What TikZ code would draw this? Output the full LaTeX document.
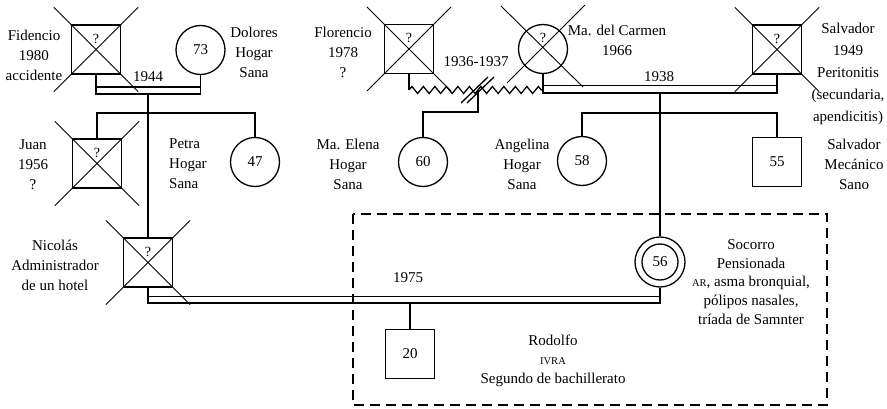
\documentclass[tikz,border=0pt]{standalone}
\usepackage{fontspec}
\setmainfont{Liberation Serif}
\usetikzlibrary{calc,decorations.pathmorphing}
\newcommand\lbl{\fontsize{15}{20}\selectfont}
\newcommand\smc[1]{{\fontsize{10.5}{12}\selectfont #1}}
\tikzset{
  rel/.style={line width=1.3pt},
  xline/.style={line width=0.9pt},
  sq/.style={draw, rectangle, line width=1.3pt, minimum size=49pt, inner sep=0pt, font=\lbl},
  cir/.style={draw, circle, line width=1.3pt, minimum size=49pt, inner sep=0pt, font=\lbl},
  txt/.style={align=center, font=\lbl, inner sep=0pt},
  qm/.style={font=\fontsize{14}{16}\selectfont, inner sep=0pt},
  dashbox/.style={line width=1.3pt, dash pattern=on 10pt off 6pt},
  zz/.style={line width=1.3pt, decorate, decoration={zigzag, segment length=11.5pt, amplitude=3.5pt}},
}
\newcommand\deadsq[1]{%
  \draw[xline] ($(#1.north west)+(-17,-17)$) -- ($(#1.south east)+(17,17)$);
  \draw[xline] ($(#1.north east)+(17,-17)$) -- ($(#1.south west)+(-17,17)$);
  \node[qm] (q#1) at ($(#1.center)+(0,-11)$) {?};}
\begin{document}
\begin{tikzpicture}[x=1pt,y=-1pt]
\useasboundingbox (0,0) rectangle (887,409);
\fill[white] (0,0) rectangle (887,409);

% ---- people ----
\node[sq] (fid) at (96,49.5) {};
\node[cir] (dol) at (200.5,50) {73};
\node[sq] (juan) at (97,163.5) {};
\node[cir] (petra) at (255,162) {47};
\node[sq] (nic) at (148,262.5) {};
\node[sq] (flor) at (409,49) {};
\node[cir] (carmen) at (543,49) {};
\node[sq] (salv) at (777,49.5) {};
\node[cir] (elena) at (423,162) {60};
\node[cir] (angel) at (582,161) {58};
\node[sq] (salvb) at (777,162) {55};
\node[cir, minimum size=50pt] (soc) at (660,262) {56};
\draw[rel] (soc.center) circle[radius=18pt];
\node[sq] (rod) at (410,354) {20};

\deadsq{fid}
\deadsq{juan}
\deadsq{nic}
\deadsq{flor}
\deadsq{salv}
\draw[xline] ($(carmen.center)+(-42,-43)$) -- ($(carmen.center)+(40,38)$);
\draw[xline] ($(carmen.center)+(42,-44)$) -- ($(carmen.center)+(-36,34)$);
\node[qm] (qcarmen) at ($(carmen.center)+(0,-11)$) {?};

% ---- texts ----
\node[txt] (tfid) at (34,55) {Fidencio\\1980\\accidente};
\node[txt] (tdol) at (254,52) {Dolores\\Hogar\\Sana};
\node[txt] (tjuan) at (33,165) {Juan\\1956\\?};
\node[txt, align=left, anchor=west] (tpet) at (169,164) {Petra\\Hogar\\Sana};
\node[txt] (tnic) at (55,265) {Nicolás\\Administrador\\de un hotel};
\node[txt] (tflor) at (343,52) {Florencio\\1978\\?};
\node[txt] (tcar) at (617,40) {Ma. del Carmen\\1966};
\node[txt, font=\fontsize{15}{22}\selectfont] (tsal) at (848,74) {Salvador\\1949\\Peritonitis\\(secundaria,\\apendicitis)};
\node[txt] (tele) at (348,164) {Ma. Elena\\Hogar\\Sana};
\node[txt] (tang) at (522,164) {Angelina\\Hogar\\Sana};
\node[txt] (tsalb) at (854,164) {Salvador\\Mecánico\\Sano};
\node[txt, font=\fontsize{15}{18.8}\selectfont] (tsoc) at (751,282) {Socorro\\Pensionada\\\smc{AR}, asma bronquial,\\pólipos nasales,\\tríada de Samnter};
\node[txt, font=\fontsize{15}{19}\selectfont] (trod) at (553,361) {Rodolfo\\\smc{IVRA}\\Segundo de bachillerato};
\node[txt] (y44) at (148,77) {1944};
\node[txt] (y38) at (659,77) {1938};
\node[txt] (y75) at (408,278) {1975};
\node[txt] (y36) at (476,62) {1936-1937};

% ---- marriage 1944 ----
\coordinate (m1) at (148,94);
\draw[rel] (fid.south) -- (fid.south |- m1) -- (dol.south |- m1) -- (dol.south);
\draw[rel] ($(fid.south |- m1)+(0,-7)$) -- ($(dol.south |- m1)+(0,-7)$);
\draw[rel] (nic.north |- m1) -- (nic.north);
\coordinate (s1) at (148,113);
\draw[rel] (juan.north) -- (juan.north |- s1) -- (petra.north |- s1) -- (petra.north);

% ---- Florencio - Carmen (divorced) ----
\coordinate (z) at (478,90);
\draw[rel] (flor.south) -- (flor.south |- z);
\draw[zz] (flor.south |- z) -- (carmen.south |- z);
\draw[rel] ($(z)+(-17,13)$) -- ($(z)+(10,-13)$);
\draw[rel] ($(z)+(-11,13)$) -- ($(z)+(16,-13)$);
\coordinate (d2) at (478,112);
\draw[rel] (z) -- (d2) -- (d2 -| elena.north) -- (elena.north);

% ---- marriage 1938 ----
\coordinate (m2) at (660,93);
\draw[rel] (carmen.south) -- (carmen.south |- m2) -- (salv.south |- m2) -- (salv.south);
\draw[rel] ($(carmen.south |- m2)+(0,-7.5)$) -- ($(salv.south |- m2)+(0,-7.5)$);
\draw[rel] (m2) -- (soc.north);
\coordinate (s2) at (660,113);
\draw[rel] (angel.north) -- (angel.north |- s2) -- (salvb.north |- s2) -- (salvb.north);

% ---- marriage 1975 ----
\coordinate (m3) at (410,303);
\draw[rel] (nic.south) -- (nic.south |- m3) -- (soc.south |- m3) -- (soc.south);
\draw[rel] ($(nic.south |- m3)+(0,-6.5)$) -- ($(soc.south |- m3)+(0,-6.5)$);
\draw[rel] (m3) -- (rod.north);

% ---- household box ----
\draw[dashbox] (353,214) rectangle (827,405);
\end{tikzpicture}
\end{document}
